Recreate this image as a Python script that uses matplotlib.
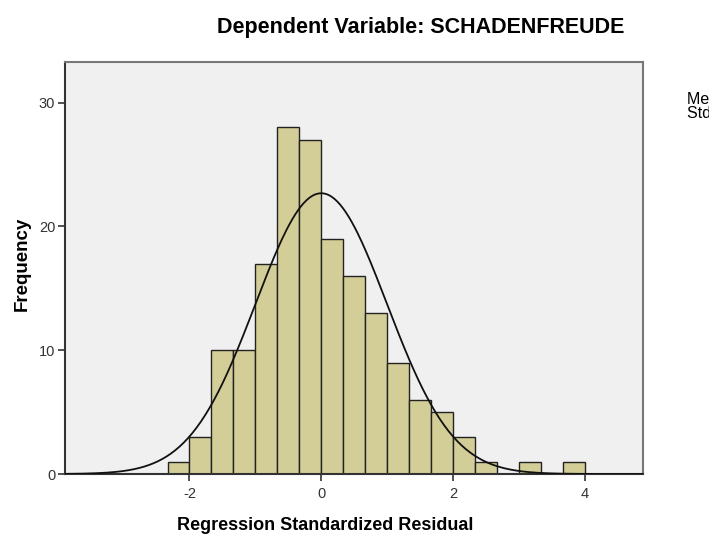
import numpy as np
import matplotlib
matplotlib.use("Agg")
import matplotlib.pyplot as plt

plt.rcParams["font.family"] = ["Liberation Sans", "DejaVu Sans"]
plt.rcParams["axes.unicode_minus"] = False

# histogram of standardized residuals (bin width 1/3)
bin_edges = np.arange(-7, 13) / 3.0
counts = [1, 3, 10, 10, 17, 28, 27, 19, 16, 13, 9, 6, 5, 3, 1, 0, 1, 0, 1]

resid_mean = 0.0
resid_sd = 0.997
n_obs = 170

title = "Dependent Variable: SCHADENFREUDE"
xlabel = "Regression Standardized Residual"
ylabel = "Frequency"
stats_text = "Mean = 1.23E-15\nStd. Dev. = 0.997"

fig = plt.figure(figsize=(7.09, 5.39), dpi=100)
ax = fig.add_axes([65 / 709, 1 - 474 / 539, 577.7 / 709, 412.3 / 539])
ax.set_facecolor("#F0F0F0")

widths = np.diff(bin_edges)
ax.bar(bin_edges[:-1], counts, width=widths, align="edge",
       color="#D3CE97", edgecolor="#222222", linewidth=1.0, zorder=2)

xlim = (-3.89, 4.88)
xs = np.linspace(xlim[0], xlim[1], 400)
bw = widths[0]
ys = n_obs * bw / (resid_sd * np.sqrt(2 * np.pi)) * np.exp(-0.5 * ((xs - resid_mean) / resid_sd) ** 2)
ax.plot(xs, ys, color="#111111", linewidth=1.3, zorder=3)

ax.set_xlim(*xlim)
ax.set_ylim(0, 33.3)
ax.set_xticks([-2, 0, 2, 4])
ax.set_yticks([0, 10, 20, 30])
ax.tick_params(axis="both", direction="out", length=5, width=1.2,
               labelsize=10.5, colors="#333333", pad=2)
ax.tick_params(axis="x", pad=4)
ax.tick_params(top=False, right=False)

for side in ["left", "bottom"]:
    ax.spines[side].set_color("#333333")
    ax.spines[side].set_linewidth(1.5)
for side in ["top", "right"]:
    ax.spines[side].set_color("#777777")
    ax.spines[side].set_linewidth(1.5)

fig.text(421 / 709, 1 - 28 / 539, title, ha="center", va="center",
         fontsize=15.5, fontweight="bold")
fig.text(325 / 709, 1 - 526 / 539, xlabel, ha="center", va="center",
         fontsize=13, fontweight="bold")
fig.text(22 / 709, 1 - 264 / 539, ylabel, ha="center", va="center",
         rotation=90, fontsize=13.5, fontweight="bold")
fig.text(687 / 709, 1 - 92 / 539, stats_text, ha="left", va="top",
         fontsize=11.5, linespacing=0.9)

fig.savefig("out.png", dpi=100)
